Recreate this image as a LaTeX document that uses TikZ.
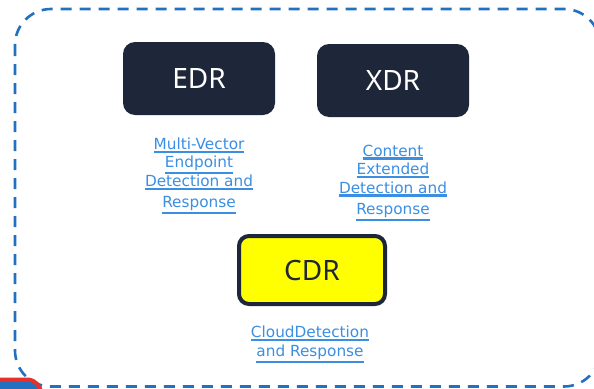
\documentclass[tikz,border=0pt]{standalone}
\usepackage{fontspec}
\setmainfont{DejaVu Sans}
\newfontfamily\boxfont{Noto Sans}
\definecolor{frameblue}{HTML}{2370C0}
\definecolor{navy}{HTML}{1E2639}
\definecolor{linkblue}{HTML}{3B8EE2}
\definecolor{cdryellow}{HTML}{FFFF00}
\definecolor{badgered}{HTML}{E8302A}
\tikzset{
  darkbox/.style={draw=none, fill=navy, rounded corners=12pt, minimum width=152pt,
    minimum height=73pt, text=white, font=\boxfont\fontsize{28}{32}\selectfont},
  cdrbox/.style={draw=navy, line width=4pt, fill=cdryellow, rounded corners=10pt,
    minimum width=146pt, minimum height=68pt, text=navy,
    font=\boxfont\fontsize{28}{32}\selectfont},
  linklabel/.style={text=linkblue, align=center, anchor=north, inner sep=0pt,
    font=\fontsize{15.3}{18.5}\selectfont},
}
% underlined link text: the rule runs the full width of the words
\newcommand\lnk[1]{\leavevmode\vtop{\hbox{#1}\kern1pt\hrule height 2.3pt}}
\begin{document}
\begin{tikzpicture}[x=1pt,y=-1pt]
\useasboundingbox (0,0) rectangle (594,388);
\begin{scope}
\clip (0,0) rectangle (594,388);
% outer dashed frame
\draw[frameblue, line width=2.6pt, dash pattern=on 11pt off 8pt, rounded corners=36pt]
  (15,9) rectangle (600,386.5);
% partially visible badge in the lower left corner
\draw[badgered, fill=frameblue, line width=4pt, rounded corners=14pt]
  (-60,379.5) rectangle (41,420);
\end{scope}
% boxes
\node[darkbox] (edr) at (199,78.5) {EDR};
\node[darkbox] (xdr) at (393,80.5) {XDR};
\node[cdrbox] (cdr) at (312,270) {CDR};
% link labels
\node[linklabel] (edrlbl) at (199,137.5)
  {\lnk{Multi-Vector}\\\lnk{Endpoint}\\\lnk{Detection and}\\[3pt]\lnk{Response}};
\node[linklabel] (xdrlbl) at (393,144.5)
  {\lnk{Content}\\\lnk{Extended}\\\lnk{Detection and}\\[3pt]\lnk{Response}};
\node[linklabel] (cdrlbl) at (310,326)
  {\lnk{CloudDetection}\\\lnk{and Response}};
\end{tikzpicture}
\end{document}
